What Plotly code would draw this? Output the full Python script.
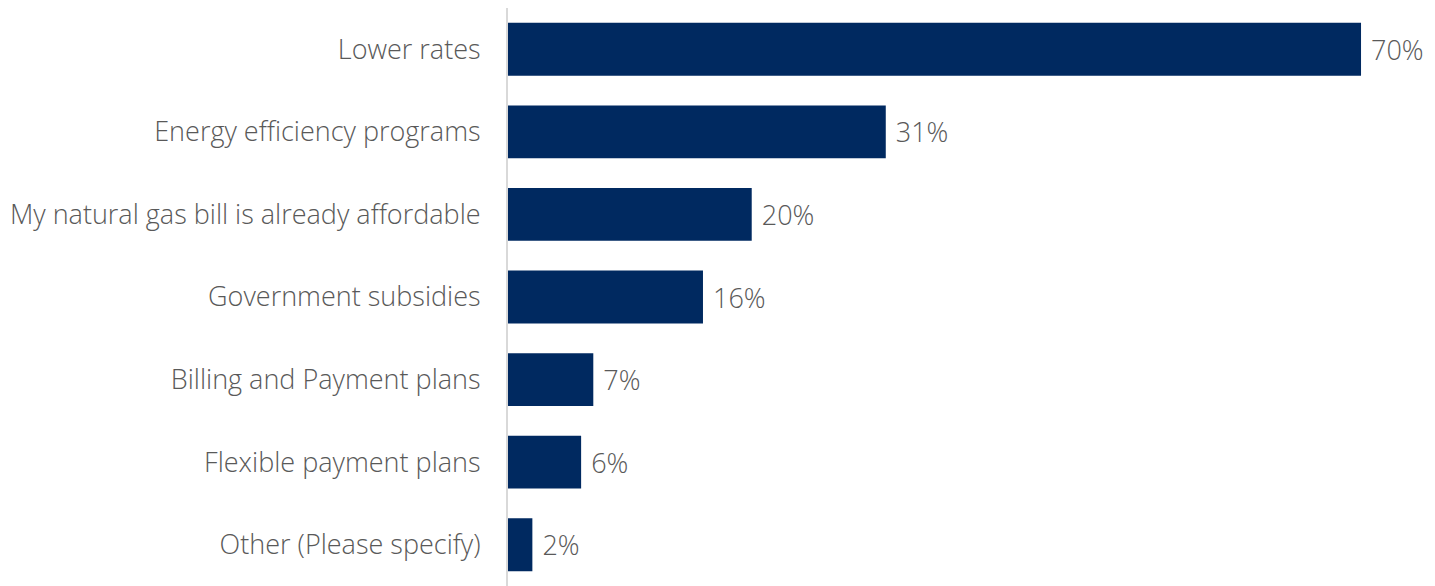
import plotly.graph_objects as go

categories = [
    "Lower rates",
    "Energy efficiency programs",
    "My natural gas bill is already affordable",
    "Government subsidies",
    "Billing and Payment plans",
    "Flexible payment plans",
    "Other (Please specify)",
]
values = [70, 31, 20, 16, 7, 6, 2]
value_labels = [f" {v}%" for v in values]

bar_color = "#002960"
text_color = "#595959"
font_family = "'Open Sans', sans-serif"

fig = go.Figure(
    go.Bar(
        x=values,
        y=categories,
        orientation="h",
        marker=dict(color=bar_color, line=dict(width=0)),
        text=value_labels,
        textposition="outside",
        textfont=dict(family=font_family, size=27, color=text_color, weight=300),
        cliponaxis=False,
        hoverinfo="skip",
    )
)

fig.update_layout(
    width=1435,
    height=586,
    margin=dict(l=508, r=0, t=8, b=0),
    paper_bgcolor="white",
    plot_bgcolor="white",
    bargap=0.36,
    showlegend=False,
    font=dict(family=font_family, size=27, color=text_color),
)

fig.update_xaxes(
    range=[0, 76.07],
    visible=False,
    showgrid=False,
    zeroline=False,
)

fig.update_yaxes(
    autorange="reversed",
    showgrid=False,
    zeroline=False,
    showline=True,
    linecolor="#d9d9d9",
    linewidth=2,
    ticks="",
    ticklabelstandoff=20,
    tickfont=dict(family=font_family, size=27, color=text_color, weight=300),
)

fig.write_html("out.html")
